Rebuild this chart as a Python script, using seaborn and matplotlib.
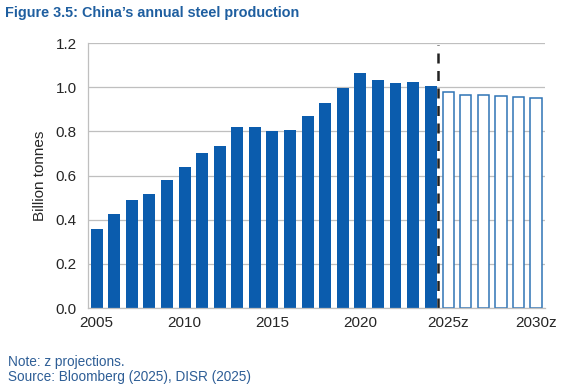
import numpy as np
import pandas as pd
import matplotlib
matplotlib.use("Agg")
import matplotlib.pyplot as plt
import seaborn as sns

# actual production 2005-2024 and projections 2025z-2030z (billion tonnes)
actual_years = [str(y) for y in range(2005, 2025)]
actual_values = [0.356, 0.424, 0.490, 0.515, 0.578, 0.640, 0.702, 0.732, 0.821, 0.822,
                 0.804, 0.808, 0.870, 0.930, 0.996, 1.064, 1.034, 1.018, 1.022, 1.007]
proj_years = ["2025z", "2026z", "2027z", "2028z", "2029z", "2030z"]
proj_values = [0.978, 0.966, 0.963, 0.960, 0.958, 0.952]
tick_labels = ["2005", "2010", "2015", "2020", "2025z", "2030z"]

order = actual_years + proj_years
df_act = pd.DataFrame({"year": actual_years, "value": actual_values})
df_proj = pd.DataFrame({"year": proj_years, "value": proj_values})

sns.set_style("white")
plt.rcParams["font.family"] = ["Liberation Sans", "DejaVu Sans"]

blue = "#0B5CAD"
light_blue = "#2F74B5"
grid_col = "#BFBFBF"

fig = plt.figure(figsize=(5.67, 3.89), dpi=100)
ax = fig.add_axes([0.155, 0.208, 0.806, 0.681])

sns.barplot(data=df_act, x="year", y="value", order=order, color=blue,
            width=0.68, saturation=1, ax=ax, edgecolor=blue, linewidth=0)
sns.barplot(data=df_proj, x="year", y="value", order=order, color="white",
            width=0.64, saturation=1, ax=ax, edgecolor=light_blue, linewidth=1.1)

ax.set_xlim(-0.5, len(order) - 0.5)
ax.set_ylim(0, 1.2)
ax.set_yticks(np.arange(0, 1.21, 0.2))
ax.set_yticklabels([f"{v:.1f}" for v in np.arange(0, 1.21, 0.2)], fontsize=11)
ax.set_xticks([order.index(t) for t in tick_labels])
ax.set_xticklabels(tick_labels, fontsize=11)
ax.set_xticks(np.arange(-0.5, len(order), 1), minor=True)
ax.tick_params(axis="x", which="major", length=0, pad=6)
ax.tick_params(axis="x", which="minor", length=4, color=grid_col, direction="out")
ax.tick_params(axis="y", length=4, color=grid_col, direction="out", pad=4)
ax.set_xlabel("")
ax.set_ylabel("Billion tonnes", fontsize=11, labelpad=6)

ax.grid(axis="y", color=grid_col, linewidth=0.9)
ax.set_axisbelow(True)
for s in ["top", "right"]:
    ax.spines[s].set_visible(False)
for s in ["left", "bottom"]:
    ax.spines[s].set_color(grid_col)
    ax.spines[s].set_linewidth(0.9)

# projection divider
ax.vlines(len(actual_years) - 0.58, 0, 1.19, colors="#222222", linestyles=(0, (4, 3)), linewidth=1.8)

fig.text(0.009, 0.985, "Figure 3.5: China\u2019s annual steel production", fontsize=10.4,
         fontweight="bold", color="#1F5FA0", va="top", ha="left")
fig.text(0.014, 0.088, "Note: z projections.", fontsize=9.8, color="#2E5E96", va="top")
fig.text(0.014, 0.050, "Source: Bloomberg (2025), DISR (2025)", fontsize=9.8, color="#2E5E96", va="top")

fig.savefig("out.png", dpi=100)
